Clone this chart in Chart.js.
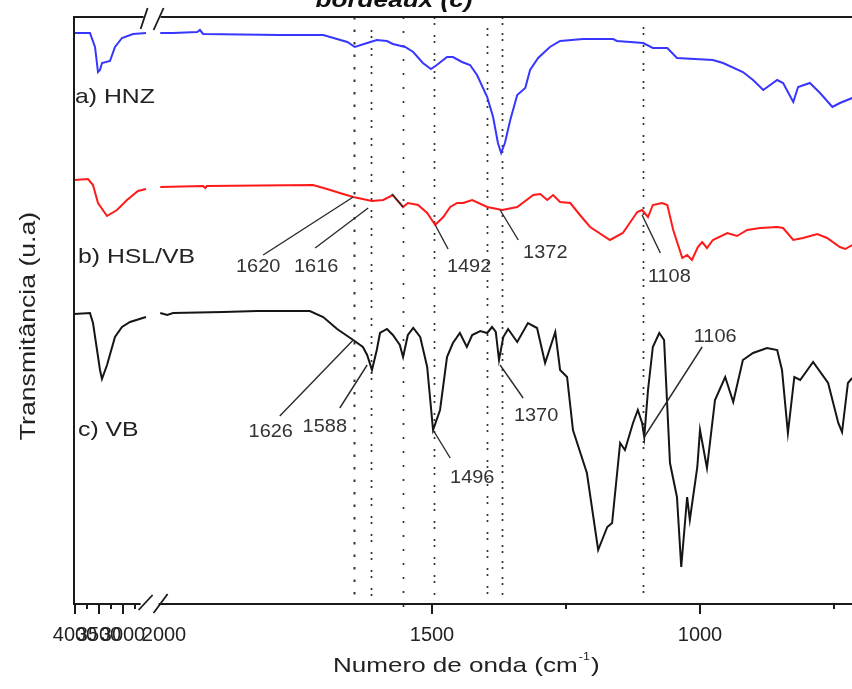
<!DOCTYPE html>
<html>
<head>
<meta charset="utf-8">
<script src="https://cdn.jsdelivr.net/npm/chart.js@4.4.1/dist/chart.umd.min.js"></script>
<style>
  html, body { margin: 0; padding: 0; background: #fff; }
</style>
</head>
<body>
<canvas id="ftirChart" width="852" height="689"></canvas>
<script>
// FTIR spectra, wavenumber (cm-1) vs transmittance (a.u.)
// null = axis break between 2500 and 2000 cm-1
const hnzWave = [4020, 3688, 3583, 3521, 3479, 3438, 3271, 3167, 3021, 2792, 2521, 2300,
  2007, 1983, 1938, 1933, 1927, 1784, 1703, 1658, 1644, 1621, 1603, 1584, 1573, 1550, 1535,
  1517, 1502, 1491, 1472, 1461, 1444, 1429, 1416, 1397, 1386, 1377, 1371, 1364, 1354, 1341,
  1326, 1317, 1302, 1280, 1261, 1218, 1162, 1155, 1130, 1106, 1088, 1061, 1043, 976, 957,
  920, 901, 882, 856, 845, 826, 817, 795, 776, 753, 739, 716];
const hnzT = [571, 571, 557, 532, 534, 541, 543, 557, 566, 570, 571, null,
  571, 571, 572, 574, 570, 569, 569, 562, 557, 561, 564, 563, 560, 557, 552,
  541, 535, 539, 547, 547, 542, 539, 529, 507, 487, 461, 451, 461, 484, 509,
  516, 534, 546, 557, 563, 565, 565, 563, 562, 561, 556, 556, 546, 544, 541,
  532, 524, 514, 524, 521, 502, 517, 521, 511, 497, 501, 506];

const hslWave = [4020, 3729, 3625, 3521, 3333, 3125, 2917, 2688, 2521, 2300,
  2007, 1927, 1923, 1920, 1722, 1696, 1672, 1647, 1612, 1591, 1573, 1554, 1545, 1526, 1509,
  1494, 1479, 1466, 1453, 1442, 1425, 1397, 1369, 1341, 1311, 1298, 1285, 1274, 1261, 1242,
  1224, 1205, 1168, 1144, 1117, 1108, 1097, 1088, 1071, 1061, 1050, 1033, 1024, 1015, 1004,
  996, 987, 976, 949, 931, 912, 888, 856, 845, 826, 808, 781, 763, 739, 729, 716];
const hslT = [424, 425, 419, 401, 388, 394, 404, 413, 415, null,
  417, 418, 416, 418, 419, 415, 411, 407, 403, 404, 409, 397, 401, 399, 391,
  379, 387, 397, 401, 401, 404, 397, 394, 397, 409, 410, 404, 409, 402, 401,
  389, 377, 364, 371, 392, 394, 387, 399, 401, 399, 374, 346, 349, 344, 357,
  362, 356, 364, 371, 368, 374, 376, 377, 376, 364, 366, 370, 366, 357, 355, 359];

const vbWave = [4020, 3688, 3625, 3479, 3438, 3333, 3167, 3021, 2854, 2521, 2300,
  2007, 1994, 1983, 1890, 1826, 1728, 1703, 1677, 1647, 1629, 1621, 1612, 1603, 1597, 1584,
  1573, 1560, 1554, 1545, 1535, 1522, 1509, 1498, 1485, 1472, 1461, 1448, 1435, 1425, 1410,
  1397, 1388, 1381, 1375, 1367, 1358, 1341, 1321, 1304, 1289, 1270, 1261, 1248, 1237, 1211,
  1190, 1173, 1164, 1149, 1140, 1125, 1116, 1108, 1104, 1097, 1088, 1076, 1067, 1056, 1043,
  1035, 1024, 1019, 1005, 1000, 987, 972, 953, 938, 920, 901, 875, 856, 847, 836,
  824, 813, 789, 761, 742, 735, 724, 716];
const vbT = [290, 291, 281, 234, 225, 239, 267, 277, 282, 287, null,
  291, 289, 291, 292, 293, 293, 287, 275, 264, 257, 249, 234, 254, 271, 275,
  269, 259, 247, 269, 276, 267, 237, 174, 194, 247, 261, 271, 257, 269, 273,
  271, 277, 272, 244, 267, 275, 262, 281, 276, 241, 272, 234, 227, 174, 131,
  54, 77, 81, 161, 154, 181, 194, 181, 167, 214, 257, 271, 264, 141, 107,
  37, 107, 84, 137, 174, 136, 204, 227, 202, 244, 251, 256, 254, 234, 171,
  227, 224, 242, 221, 181, 172, 221, 226];

const seriesNames = ['a) HNZ', 'b) HSL/VB', 'c) VB'];

const tickWaves = [4000, 3500, 3000, 2000, 1500, 1000];
const tickLabels = ['4000', '3500', '3000', '2000', '1500', '1000'];
const minorWaves = [3750, 3250, 2750, 1250, 750];

// dotted reference lines
const markWaves = [1645, 1614, 1554, 1496, 1397, 1369, 1106];

// peak annotations: peak point and end of leader line
const peakLabels = ['1620', '1616', '1492', '1372', '1108', '1626', '1588', '1496', '1370', '1106', ''];
const peakWave = [1647, 1619, 1494, 1373, 1108, 1647, 1621, 1498, 1373, 1104, 1575];
const peakT = [407, 396, 379, 394, 389, 264, 239, 174, 239, 167, 410];
const leaderWave = [1815, 1718, 1470, 1339, 1074, 1784, 1672, 1466, 1330, 996, 1554];
const leaderT = [349, 356, 355, 364, 351, 188, 196, 146, 206, 257, 397];

const FONT = '"Liberation Sans", Arial, sans-serif';

// broken axis: 4000-2500 compressed, 2000-700 expanded
function toPos(w) {
  return w >= 2300 ? 1 + (4000 - w) * 0.048 : 90 + (2000 - w) * 0.536;
}
function toPoints(wave, t) {
  return wave.map((w, i) => ({ x: toPos(w), y: t[i] }));
}

function stretchText(ctx, text, x, y, font, sx, align) {
  ctx.save();
  ctx.font = font;
  const w = ctx.measureText(text).width * sx;
  const left = align === 'center' ? x - w / 2 : (align === 'right' ? x - w : x);
  ctx.translate(left, y);
  ctx.scale(sx, 1);
  ctx.textAlign = 'left';
  ctx.textBaseline = 'alphabetic';
  ctx.fillText(text, 0, 0);
  ctx.restore();
}
function seg(ctx, x1, y1, x2, y2) {
  ctx.beginPath();
  ctx.moveTo(x1, y1);
  ctx.lineTo(x2, y2);
  ctx.stroke();
}

const markTop = [587, 574, 587, 587, 576, 587, 577];
const markBottom = [6, 6, -10, 6, 10, 8, 4];
const markDash = [[2.5, 10], [2, 4, 2, 10], [2, 12], [2, 4, 2, 10], [2, 4, 2, 10], [2, 4, 2, 8], [2, 4, 2, 10]];
const labelOffset = [[-5, 17], [1, 24], [21, 23], [27, 18], [9, 29], [-9, 21], [-15, 24], [22, 25], [13, 23], [13, -5], [0, 0]];

const frame = {
  id: 'frame',
  beforeDatasetsDraw(chart) {
    const { ctx, scales: { x, y } } = chart;
    ctx.save();
    ctx.strokeStyle = '#333';
    markWaves.forEach((w, i) => {
      const px = Math.round(x.getPixelForValue(toPos(w))) + 0.5;
      ctx.lineWidth = i === 0 ? 2 : 1.7;
      ctx.setLineDash(markDash[i]);
      seg(ctx, px, y.getPixelForValue(markTop[i]), px, y.getPixelForValue(markBottom[i]));
    });
    ctx.restore();
  },
  afterDatasetsDraw(chart) {
    const { ctx, chartArea: a, scales: { x, y } } = chart;
    ctx.save();
    ctx.strokeStyle = '#1a1a1a';
    ctx.lineWidth = 2;
    const bx = x.getPixelForValue(toPos(2300)) - 4;

    // frame: left, bottom and top lines with break gap
    seg(ctx, a.left, a.top - 1, a.left, a.bottom + 1);
    seg(ctx, a.left, a.bottom, bx - 12, a.bottom);
    seg(ctx, bx + 6, a.bottom, a.right, a.bottom);
    seg(ctx, a.left, a.top, bx - 9, a.top);
    seg(ctx, bx + 8, a.top, a.right, a.top);

    // break marks
    ctx.lineWidth = 1.8;
    seg(ctx, bx - 14, a.bottom + 6, bx, a.bottom - 9);
    seg(ctx, bx + 1, a.bottom + 9, bx + 15, a.bottom - 10);
    seg(ctx, bx - 12, a.top + 12, bx - 5, a.top - 9);
    seg(ctx, bx + 1, a.top + 13, bx + 11, a.top - 9);

    // tick marks
    ctx.lineWidth = 2;
    tickWaves.forEach(w => {
      if (w === 2000) return;
      const px = Math.round(x.getPixelForValue(toPos(w)));
      seg(ctx, px, a.bottom, px, a.bottom + 10);
    });
    minorWaves.forEach(w => {
      const px = Math.round(x.getPixelForValue(toPos(w)));
      seg(ctx, px, a.bottom, px, a.bottom + 5);
    });

    // peak leaders and labels
    ctx.strokeStyle = '#2a2a2a';
    ctx.lineWidth = 1.4;
    ctx.fillStyle = '#333';
    peakLabels.forEach((lab, i) => {
      const x1 = x.getPixelForValue(toPos(peakWave[i]));
      const y1 = y.getPixelForValue(peakT[i]);
      const x2 = x.getPixelForValue(toPos(leaderWave[i]));
      const y2 = y.getPixelForValue(leaderT[i]);
      seg(ctx, x1, y1, x2, y2);
      if (lab) stretchText(ctx, lab, x2 + labelOffset[i][0], y2 + labelOffset[i][1], '19px ' + FONT, 1.05, 'center');
    });

    // series names
    ctx.fillStyle = '#222';
    const nameY = [103, 263, 436];
    const nameX = [75, 78, 78];
    seriesNames.forEach((n, i) => stretchText(ctx, n, nameX[i], nameY[i], '21px ' + FONT, 1.18, 'left'));

    // y axis title
    ctx.save();
    ctx.translate(35, 326);
    ctx.rotate(-Math.PI / 2);
    stretchText(ctx, 'Transmitância (u.a)', 0, 0, '22px ' + FONT, 1.21, 'center');
    ctx.restore();

    // x axis title with superscript
    ctx.save();
    ctx.translate(333, 672);
    ctx.scale(1.24, 1);
    ctx.font = '21px ' + FONT;
    const main = 'Numero de onda (cm';
    const wm = ctx.measureText(main).width;
    ctx.fillText(main, 0, 0);
    ctx.font = '10px ' + FONT;
    const ws = ctx.measureText('-1').width;
    ctx.fillText('-1', wm + 1, -12);
    ctx.font = '21px ' + FONT;
    ctx.fillText(')', wm + ws + 2, 0);
    ctx.restore();

    // clipped caption at top
    ctx.fillStyle = '#111';
    stretchText(ctx, 'bordeaux (c)', 394, 7, 'italic bold 22px ' + FONT, 1.19, 'center');
    ctx.restore();
  }
};

const lineStyle = { borderWidth: 2, pointRadius: 0, tension: 0, fill: false, spanGaps: false };

new Chart(document.getElementById('ftirChart'), {
  type: 'line',
  data: {
    datasets: [
      { label: seriesNames[0], data: toPoints(hnzWave, hnzT), borderColor: '#3636ff', ...lineStyle },
      { label: seriesNames[1], data: toPoints(hslWave, hslT), borderColor: '#ff1a1a', ...lineStyle },
      { label: seriesNames[2], data: toPoints(vbWave, vbT), borderColor: '#151515', ...lineStyle }
    ]
  },
  options: {
    responsive: false,
    animation: false,
    layout: { padding: { top: 17, right: 0, left: 0, bottom: 0 } },
    plugins: { legend: { display: false }, tooltip: { enabled: false } },
    scales: {
      x: {
        type: 'linear', min: 0, max: 778,
        afterBuildTicks: s => { s.ticks = tickWaves.map(w => ({ value: toPos(w) })); },
        afterFit: s => { s.height = 85; },
        grid: { display: false, drawTicks: false },
        border: { display: false },
        ticks: {
          autoSkip: false, maxRotation: 0, minRotation: 0, padding: 19,
          color: '#222', font: { family: FONT, size: 20 },
          callback: (v, i) => tickLabels[i]
        }
      },
      y: {
        min: 0, max: 587,
        afterFit: s => { s.width = 74; },
        grid: { display: false, drawTicks: false },
        border: { display: false },
        ticks: { display: false }
      }
    }
  },
  plugins: [frame]
});
</script>
</body>
</html>
